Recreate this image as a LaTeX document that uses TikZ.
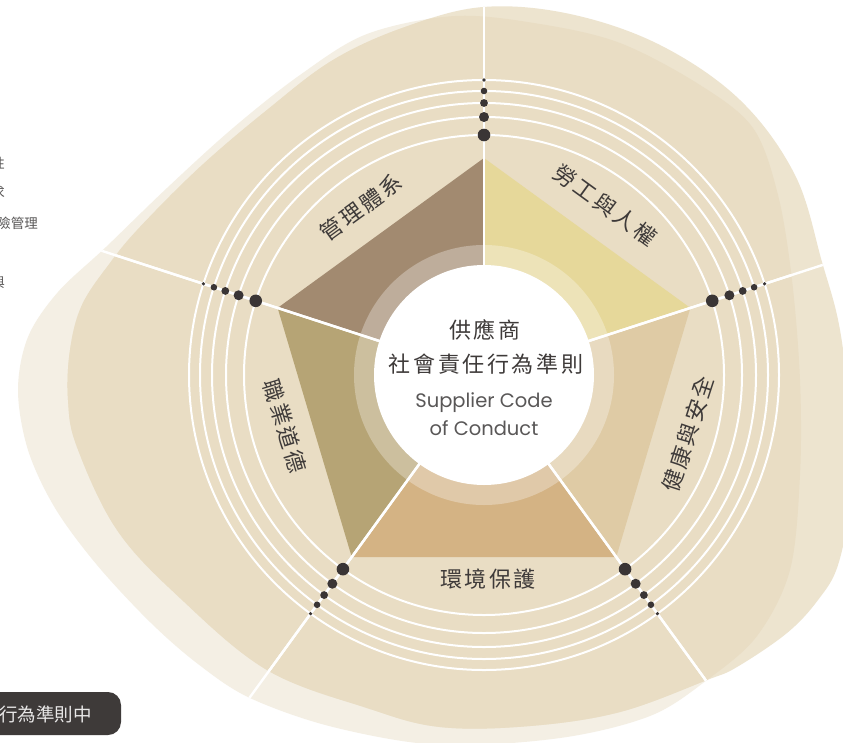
\documentclass[tikz,border=0pt]{standalone}
\usepackage{fontspec}
\usetikzlibrary{calc}
\newfontfamily\cjk[LetterSpace=12]{Noto Sans CJK TC}
\newfontfamily\cjkplain{Noto Sans CJK TC}
\newfontfamily\latinsf{Poppins}
\definecolor{txt}{HTML}{3E3A39}
\definecolor{graytxt}{HTML}{595757}
\definecolor{dotc}{HTML}{3A3535}
\definecolor{paleL}{HTML}{F4EFE4}
\definecolor{paleR}{HTML}{EDE4CF}
\definecolor{band}{HTML}{E9DDC4}
\definecolor{secA}{HTML}{A28A70}
\definecolor{secB}{HTML}{E6D89A}
\definecolor{secC}{HTML}{DFCBA5}
\definecolor{secD}{HTML}{D4B384}
\definecolor{secE}{HTML}{B6A475}
\def\Lpath{plot[smooth cycle, tension=0.55] coordinates {(455,16) (540,24) (620,43) (700,85) (753,128) (778,195) (792,280) (800,380) (800,475) (790,570) (757,636) (707,680) (650,716) (560,738) (440,745) (333,727) (250,698) (198,664) (150,622) (97,565) (55,508) (28,450) (18,390) (28,337) (58,292) (106,247) (167,188) (233,128) (300,75) (367,34)}}
\def\Rpath{plot[smooth cycle, tension=0.6] coordinates {(483,7) (570,14) (660,45) (740,100) (795,175) (822,262) (840,330) (850,420) (850,500) (838,565) (818,600) (787,633) (737,667) (707,680) (620,712) (530,726) (440,727) (367,708) (267,670) (180,598) (117,530) (77,447) (68,400) (70,350) (82,305) (110,263) (140,227) (200,167) (267,110) (333,60) (405,27)}}
\begin{document}
\begin{tikzpicture}[x=1pt,y=-1pt,
  lab/.style={font={\cjk\fontsize{22}{24}\selectfont}, text=txt, inner sep=0pt},
  engl/.style={font={\latinsf\fontsize{19.5}{22}\selectfont}, text=graytxt, inner sep=0pt},
  sidetxt/.style={font={\cjkplain\fontsize{13.5}{15}\selectfont}, text=graytxt, inner sep=0pt, anchor=east},
  spoke/.style={white, line width=2.4pt},
  ringline/.style={white, line width=2pt},
  dotfill/.style={fill=dotc}]
\useasboundingbox (0,0) rectangle (843,742);
\fill[white] (0,0) rectangle (843,742);
\coordinate (C) at (484,375);
% background blobs
\fill[paleL] \Lpath;
\fill[paleR] \Rpath;
\begin{scope}
  \clip \Lpath;
  \fill[band] \Rpath;
\end{scope}
% pentagon vertices
\coordinate (V1) at ($(C)+(-90:217)$);
\coordinate (V2) at ($(C)+(-18:217)$);
\coordinate (V3) at ($(C)+(54:225)$);
\coordinate (V4) at ($(C)+(126:225)$);
\coordinate (V5) at ($(C)+(198:217)$);
\fill[secA] (C) -- (V5) -- (V1) -- cycle;
\fill[secB] (C) -- (V1) -- (V2) -- cycle;
\fill[secC] (C) -- (V2) -- (V3) -- cycle;
\fill[secD] (C) -- (V3) -- (V4) -- cycle;
\fill[secE] (C) -- (V4) -- (V5) -- cycle;
% light ring
\fill[white, opacity=0.3] (C) circle[radius=130];
% spokes
\begin{scope}
  \clip \Lpath;
  \foreach \a in {-90,-18,54,126,198} \draw[spoke] ($(C)+(\a:100)$) -- ($(C)+(\a:440)$);
\end{scope}
\begin{scope}
  \clip \Rpath;
  \foreach \a in {-90,-18,54,126,198} \draw[spoke] ($(C)+(\a:100)$) -- ($(C)+(\a:440)$);
\end{scope}
% centre circle
\fill[white] (C) circle[radius=110];
% concentric rings
\foreach \r in {240,258,272,284,295} \draw[ringline] (C) circle[radius=\r];
% dots
\foreach \a in {-90,-18,54,126,198} {
  \foreach \r/\s in {240/6.3, 258/5, 272/3.9, 284/3.3, 295/1.8}
    \fill[dotfill] ($(C)+(\a:\r)$) circle[radius=\s];
}
% centre text
\node[lab] (t1) at (485,330) {供應商};
\node[lab] (t2) at (486,364) {社會責任行為準則};
\node[engl] (t3) at (484,403) {Supplier Code};
\node[engl] (t4) at (484,428) {of Conduct};
% sector labels
\node[lab, rotate=36] (l1) at (361,207) {管理體系};
\node[lab, rotate=-36] (l2) at (605,205) {勞工與人權};
\node[lab, rotate=72] (l3) at (688,434) {健康與安全};
\node[lab] (l4) at (488,579) {環境保護};
\node[lab, rotate=-73] (l5) at (285,426) {職業道德};
% cut-off side text
\node[sidetxt] (s1) at (5,163) {性};
\node[sidetxt] (s2) at (5,192) {求};
\node[sidetxt] (s3) at (38,223) {險管理};
\node[sidetxt] (s4) at (5,282) {與};
% dark pill
\fill[txt, rounded corners=13pt] (-30,692) rectangle (121,735);
\node[font={\cjkplain\fontsize{18.5}{20}\selectfont}, text=white!88!txt, inner sep=0pt, anchor=west] (p1) at (-1,714) {行為準則中};
\end{tikzpicture}
\end{document}
